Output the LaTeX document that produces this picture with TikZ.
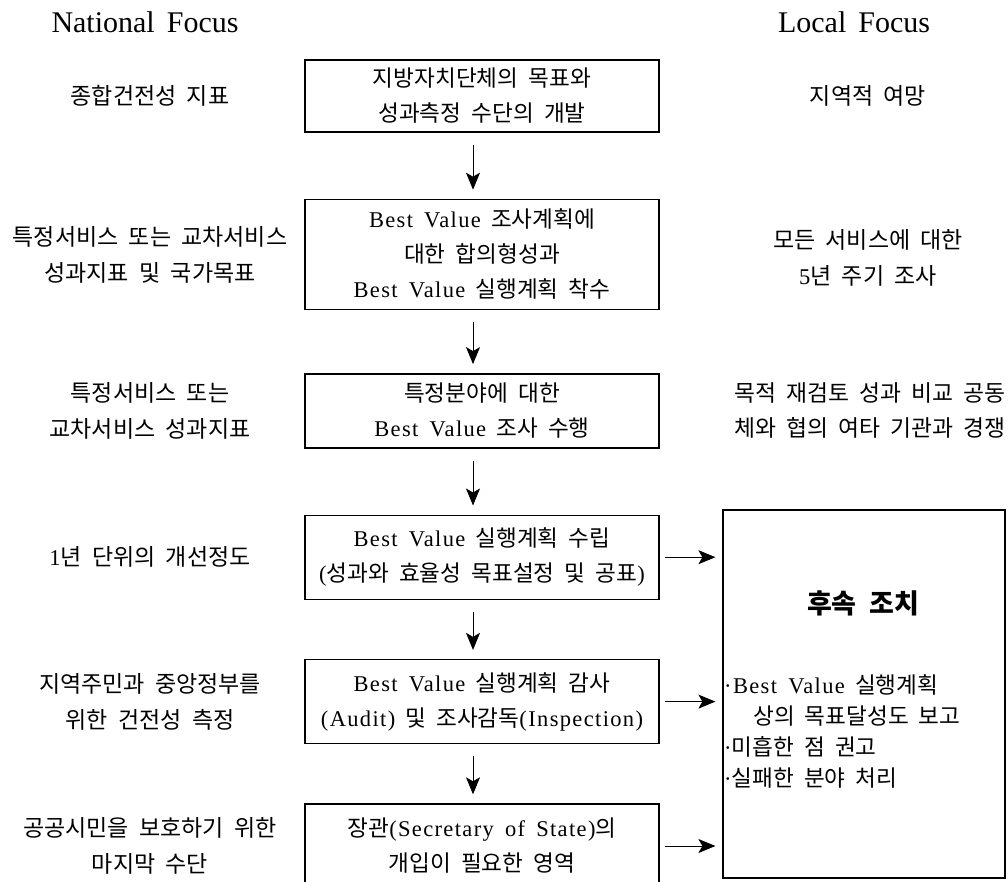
\documentclass[tikz,border=0pt]{standalone}
\usepackage{fontspec}
\setmainfont{Noto Sans CJK KR}[WordSpace=2.0]
\newfontfamily\latin{Liberation Serif}[LetterSpace=6, WordSpace=1.6]
\newfontfamily\headfont{Liberation Serif}[WordSpace=1.6]
\usetikzlibrary{arrows.meta, positioning}
\newcommand{\en}[1]{{\latin\fontsize{22.5}{35}\selectfont #1}}

\begin{document}
\begin{tikzpicture}[x=1pt, y=-1pt,
  every node/.style={font=\fontsize{22.6}{35}\selectfont},
  stepbox/.style={draw, line width=1.4pt, minimum width=354pt,
                  inner sep=0pt, align=center},
  side/.style={align=center, font=\fontsize{23}{36}\selectfont},
  head/.style={font=\headfont\fontsize{30}{36}\selectfont},
  arr/.style={-{Stealth[length=17pt, width=14pt, inset=4pt]},
              line width=0.9pt},
  darr/.style={arr, shorten <=12pt, shorten >=9pt},
  harr/.style={arr, shorten <=5pt, shorten >=7pt}
]
\fill[white] (0,0) rectangle (1008,882);
\useasboundingbox (0,0) rectangle (1008,882);

% headers
\node[head] (natl) at (145,22) {National Focus};
\node[head] (locl) at (854,22) {Local Focus};

% centre column
\node[stepbox, minimum height=72pt] (plan) at (482,96)
    {지방자치단체의 목표와\\성과측정 수단의 개발};
\node[stepbox, minimum height=110pt, below=66pt of plan] (agree)
    {\en{Best Value} 조사계획에\\대한 합의형성과\\\en{Best Value} 실행계획 착수};
\node[stepbox, minimum height=74pt, below=63pt of agree] (review)
    {특정분야에 대한\\\en{Best Value} 조사 수행};
\node[stepbox, minimum height=84pt, below=66pt of review] (perf)
    {\en{Best Value} 실행계획 수립\\\en{(}성과와 효율성 목표설정 및 공표\en{)}};
\node[stepbox, minimum height=84pt, below=59pt of perf] (audit)
    {\en{Best Value} 실행계획 감사\\\en{(Audit)} 및 조사감독\en{(Inspection)}};
\node[stepbox, minimum height=84pt, below=59pt of audit] (sos)
    {장관\en{(Secretary of State)}의\\개입이 필요한 영역};

\draw[darr] ([xshift=-9pt]plan.south) -- ([xshift=-9pt]agree.north);
\draw[darr] ([xshift=-9pt]agree.south) -- ([xshift=-9pt]review.north);
\draw[darr] ([xshift=-9pt]review.south) -- ([xshift=-9pt]perf.north);
\draw[darr] ([xshift=-9pt]perf.south) -- ([xshift=-9pt]audit.north);
\draw[darr] ([xshift=-9pt]audit.south) -- ([xshift=-9pt]sos.north);

% national focus column
\coordinate (lcol) at (150,0);
\node[side] (nat1) at (lcol |- plan) {종합건전성 지표};
\node[side] (nat2) at (lcol |- agree) {특정서비스 또는 교차서비스\\성과지표 및 국가목표};
\node[side] (nat3) at (lcol |- review) {특정서비스 또는\\교차서비스 성과지표};
\node[side] (nat4) at (lcol |- perf) {\en{1}년 단위의 개선정도};
\node[side] (nat5) at (lcol |- audit) {지역주민과 중앙정부를\\위한 건전성 측정};
\node[side] (nat6) at (lcol |- sos) {공공시민을 보호하기 위한\\마지막 수단};

% local focus column
\coordinate (rcol) at (868,0);
\node[side] (loc1) at (rcol |- plan) {지역적 여망};
\node[side] (loc2) at ([yshift=-3pt]rcol |- agree) {모든 서비스에 대한\\\en{5}년 주기 조사};
\node[side, font=\fontsize{22.8}{35}\selectfont] (loc3) at ([xshift=2pt]rcol |- review)
    {목적 재검토 성과 비교 공동\\체와 협의 여타 기관과 경쟁};

% follow-up box
\node[draw, line width=1.2pt, minimum width=282pt, minimum height=368pt] (follow)
    at (864,694) {};
\node[font=\fontsize{27}{30}\selectfont\bfseries] (ftitle) at (863,603) {후속 조치};
\node[align=left, anchor=west, inner sep=0pt, font=\fontsize{22.6}{31}\selectfont]
    (fitems) at (724,731)
    {\en{·Best Value} 실행계획\\\hspace*{29pt}상의 목표달성도 보고\\
     \en{·}미흡한 점 권고\\\en{·}실패한 분야 처리};

\draw[harr] (perf.east) -- (perf.east -| follow.west);
\draw[harr] (audit.east) -- (audit.east -| follow.west);
\draw[harr] (sos.east) -- (sos.east -| follow.west);
\end{tikzpicture}
\end{document}
